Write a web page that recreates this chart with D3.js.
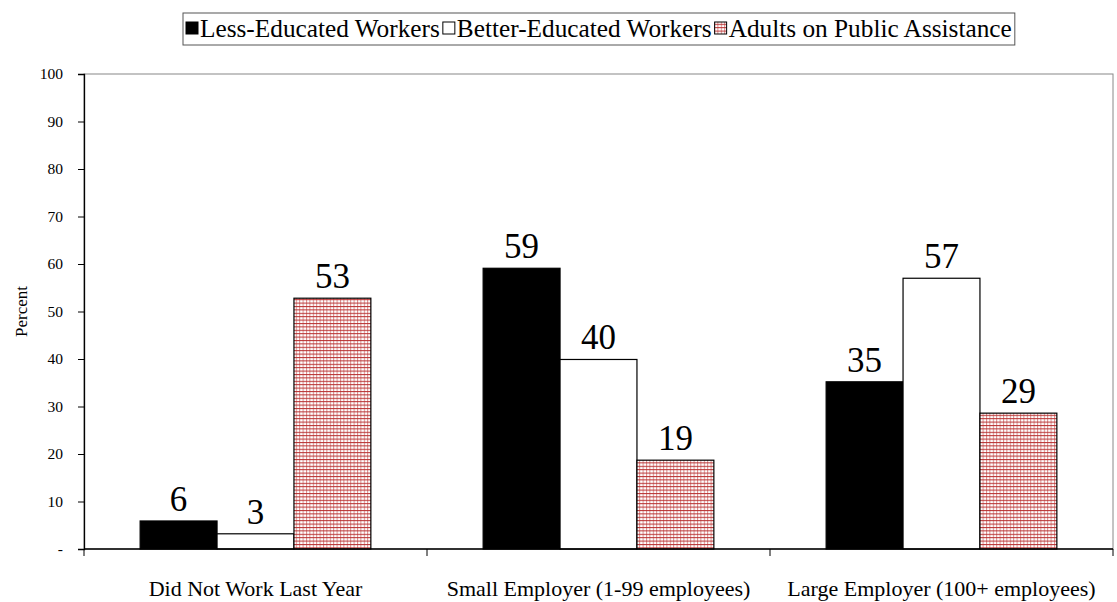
<!DOCTYPE html>
<html><head><meta charset="utf-8">
<script src="https://cdn.jsdelivr.net/npm/d3@7"></script>
<style>body{margin:0;background:#fff}svg{display:block}</style>
</head><body>
<script>
const categories = ["Did Not Work Last Year", "Small Employer (1-99 employees)", "Large Employer (100+ employees)"];
const seriesNames = ["Less-Educated Workers", "Better-Educated Workers", "Adults on Public Assistance"];
const lessEducated = [5.9, 59.1, 35.2];
const betterEducated = [3.2, 39.9, 57.0];
const publicAssistance = [52.8, 18.7, 28.6];
const yTicks = [0, 10, 20, 30, 40, 50, 60, 70, 80, 90, 100];
const yTickLabels = ["-", "10", "20", "30", "40", "50", "60", "70", "80", "90", "100"];

const FONT = "'Liberation Serif', 'DejaVu Serif', serif";
const W = 1117, H = 602;
const m = {left: 84, right: 1113, top: 74, bottom: 549};
const svg = d3.select("body").append("svg").attr("width", W).attr("height", H);
const defs = svg.append("defs");
const pat = defs.append("pattern").attr("id", "grid").attr("patternUnits", "userSpaceOnUse")
  .attr("width", 3.4).attr("height", 3.4);
pat.append("rect").attr("width", 3.4).attr("height", 3.4).attr("fill", "#fff");
pat.append("rect").attr("x", 0).attr("y", 0).attr("width", 1).attr("height", 3.4).attr("fill", "#d88a8a");
pat.append("rect").attr("x", 0).attr("y", 0).attr("width", 3.4).attr("height", 1).attr("fill", "#b83030");

const fills = ["#000", "#fff", "url(#grid)"];
const series = [lessEducated, betterEducated, publicAssistance];

const x = d3.scaleBand().domain(categories).range([m.left, m.right]);
const inner = d3.scaleBand().domain(d3.range(3)).range([0, x.bandwidth()]).paddingInner(0).paddingOuter(0.73);
const y = d3.scaleLinear().domain([0, 100]).range([m.bottom, m.top]);

// plot frame
svg.append("rect").attr("x", m.left).attr("y", m.top).attr("width", m.right - m.left).attr("height", m.bottom - m.top)
  .attr("fill", "none").attr("stroke", "#888").attr("stroke-width", 1);

// bars
series.forEach((vals, si) => {
  svg.append("g").selectAll("rect").data(vals).join("rect")
    .attr("x", (d, i) => x(categories[i]) + inner(si))
    .attr("y", d => y(d))
    .attr("width", inner.bandwidth())
    .attr("height", d => y(0) - y(d))
    .attr("fill", fills[si]).attr("stroke", "#000").attr("stroke-width", 1.2);
  svg.append("g").selectAll("text").data(vals).join("text")
    .attr("x", (d, i) => x(categories[i]) + inner(si) + inner.bandwidth() / 2)
    .attr("y", d => y(d) - 10)
    .attr("text-anchor", "middle").attr("font-size", 35)
    .text(d => d3.format(".0f")(d));
});

// y axis
const yAxis = d3.axisLeft(y).tickValues(yTicks).tickSize(6).tickPadding(15)
  .tickFormat((d, i) => yTickLabels[i]);
const gy = svg.append("g").attr("transform", `translate(${m.left},0)`).call(yAxis);
gy.selectAll("text").attr("font-size", 15.5);
gy.select(".domain").attr("stroke", "#000").attr("stroke-width", 1.3);

// x axis
const gx = svg.append("g").attr("transform", `translate(0,${m.bottom})`);
gx.append("line").attr("x1", m.left).attr("x2", m.right).attr("stroke", "#000").attr("stroke-width", 1.3);
const bounds = [m.left].concat(categories.map(c => x(c) + x.bandwidth()));
gx.selectAll("line.tk").data(bounds).join("line").attr("class", "tk")
  .attr("x1", d => d).attr("x2", d => d).attr("y1", 0).attr("y2", 7).attr("stroke", "#000");
gx.selectAll("text").data(categories).join("text")
  .attr("x", d => x(d) + x.bandwidth() / 2).attr("y", 47)
  .attr("text-anchor", "middle").attr("font-size", 22).text(d => d);

// y title
svg.append("text").attr("transform", `translate(27,${(m.top + m.bottom) / 2}) rotate(-90)`)
  .attr("text-anchor", "middle").attr("font-size", 17).text("Percent");

// legend
const lg = svg.append("g");
const lx = 183, ly = 13, lh = 32;
const items = lg.selectAll("g").data(seriesNames).join("g");
let cx = lx + 3;
items.each(function(d, i) {
  const g = d3.select(this);
  g.append("rect").attr("x", cx).attr("y", ly + 9).attr("width", 12).attr("height", 12)
    .attr("fill", fills[i]).attr("stroke", "#000").attr("stroke-width", 1);
  const t = g.append("text").attr("x", cx + 14).attr("y", ly + 24).attr("font-size", 25.3)
    .style("font-family", FONT).text(d);
  const w = t.node().getComputedTextLength();
  cx += 14 + w + 3;
});
lg.insert("rect", ":first-child").attr("x", lx).attr("y", ly).attr("width", cx - lx).attr("height", lh)
  .attr("fill", "#fff").attr("stroke", "#555").attr("stroke-width", 1);

svg.selectAll("text").style("font-family", FONT).attr("fill", "#000");
</script>
</body></html>
